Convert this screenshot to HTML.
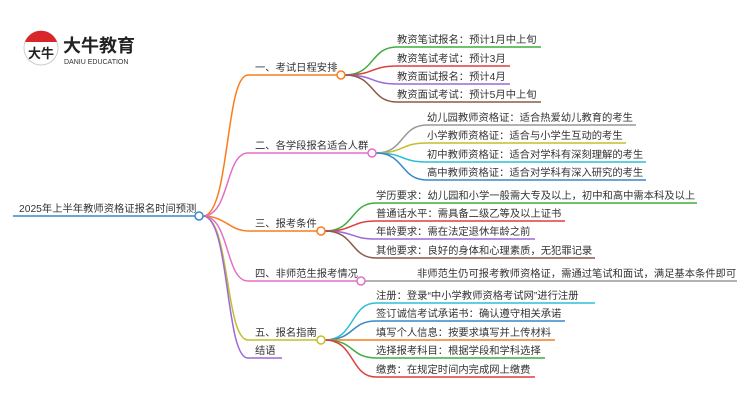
<!DOCTYPE html>
<html><head><meta charset="utf-8"><style>
html,body{margin:0;padding:0;background:#fff;width:750px;height:410px;overflow:hidden}
svg text{font-family:"Liberation Sans","Noto Sans CJK SC",sans-serif;fill:#333;font-size:10.3px}
</style></head><body>
<svg width="750" height="410" viewBox="0 0 750 410" xmlns="http://www.w3.org/2000/svg" fill="none" stroke-width="1.5">
<!-- logo -->
<circle cx="41" cy="48" r="17" fill="#fff" stroke="#ccc" stroke-width="1"/>
<path d="M25,42 A17,17 0 0 1 57,42 Z" fill="#d9262b" stroke="none"/>
<text x="28" y="58" style="font-size:13px;font-weight:bold;fill:#222">大牛</text>
<text x="63" y="52" style="font-size:18px;font-weight:bold;fill:#222">大牛教育</text>
<text x="64" y="64" style="font-size:7px;fill:#333">DANIU EDUCATION</text>

<!-- root -->
<path d="M13,216 H195" stroke="#3a87c8"/>
<text x="19" y="212">2025年上半年教师资格证报名时间预测</text>

<!-- main branches -->
<path d="M203,216 C230,216 225,75 248,75 H337" stroke="#f97d1c"/>
<path d="M203,216 C230,216 225,153 248,153 H368" stroke="#e46fc7"/>
<path d="M203,216 C225,216 230,231 248,231 H317" stroke="#f97d1c"/>
<path d="M203,216 C230,216 225,281 248,281 H357" stroke="#e46fc7"/>
<path d="M203,216 C230,216 225,340 248,340 H317" stroke="#c4bf2a"/>
<path d="M203,216 C230,216 225,358 248,358 H282" stroke="#9b6ad6"/>
<circle cx="199" cy="216" r="4" fill="#fff" stroke="#3a87c8"/>
<text x="255" y="71">一、考试日程安排</text>
<text x="255" y="149">二、各学段报名适合人群</text>
<text x="255" y="227">三、报考条件</text>
<text x="255" y="277">四、非师范生报考情况</text>
<text x="255" y="336">五、报名指南</text>
<text x="255" y="354">结语</text>

<!-- branch 1 leaves -->
<path d="M345,75 C375,75 370,47 397,47 H541" stroke="#3fae3f"/>
<path d="M345,75 C375,75 370,66 397,66 H510" stroke="#e03e3e"/>
<path d="M345,75 C375,75 370,84 397,84 H510" stroke="#9b6ad6"/>
<path d="M345,75 C375,75 370,102 397,102 H541" stroke="#8a5a4a"/>
<circle cx="341" cy="75" r="4" fill="#fff" stroke="#f97d1c"/>
<text x="397" y="43">教资笔试报名：预计1月中上旬</text>
<text x="397" y="62">教资笔试考试：预计3月</text>
<text x="397" y="80">教资面试报名：预计4月</text>
<text x="397" y="98">教资面试考试：预计5月中上旬</text>

<!-- branch 2 leaves -->
<path d="M376,153 C405,153 400,125 427,125 H636" stroke="#999"/>
<path d="M376,153 C405,153 400,143 427,143 H626" stroke="#c4bf2a"/>
<path d="M376,153 C405,153 400,162 427,162 H646" stroke="#2bbfd6"/>
<path d="M376,153 C405,153 400,180 427,180 H646" stroke="#3a87c8"/>
<circle cx="372" cy="153" r="4" fill="#fff" stroke="#e46fc7"/>
<text x="427" y="121">幼儿园教师资格证：适合热爱幼儿教育的考生</text>
<text x="427" y="139">小学教师资格证：适合与小学生互动的考生</text>
<text x="427" y="158">初中教师资格证：适合对学科有深刻理解的考生</text>
<text x="427" y="176">高中教师资格证：适合对学科有深入研究的考生</text>

<!-- branch 3 leaves -->
<path d="M325,231 C355,231 350,203 376,203 H697" stroke="#3fae3f"/>
<path d="M325,231 C355,231 350,221 376,221 H565" stroke="#e03e3e"/>
<path d="M325,231 C355,231 350,239 376,239 H535" stroke="#9b6ad6"/>
<path d="M325,231 C355,231 350,258 376,258 H595" stroke="#8a5a4a"/>
<circle cx="321" cy="231" r="4" fill="#fff" stroke="#f97d1c"/>
<text x="376" y="199">学历要求：幼儿园和小学一般需大专及以上，初中和高中需本科及以上</text>
<text x="376" y="217">普通话水平：需具备二级乙等及以上证书</text>
<text x="376" y="235">年龄要求：需在法定退休年龄之前</text>
<text x="376" y="254">其他要求：良好的身体和心理素质，无犯罪记录</text>

<!-- branch 4 -->
<path d="M365,281 H737" stroke="#999"/>
<circle cx="361" cy="281" r="4" fill="#fff" stroke="#e46fc7"/>
<text x="417" y="277">非师范生仍可报考教师资格证，需通过笔试和面试，满足基本条件即可</text>

<!-- branch 5 leaves -->
<path d="M325,340 C355,340 350,303 376,303 H595" stroke="#2bbfd6"/>
<path d="M325,340 C355,340 350,321 376,321 H565" stroke="#3a87c8"/>
<path d="M325,340 H555" stroke="#f97d1c"/>
<path d="M325,340 C355,340 350,358 376,358 H545" stroke="#3fae3f"/>
<path d="M325,340 C355,340 350,377 376,377 H535" stroke="#e03e3e"/>
<circle cx="321" cy="340" r="4" fill="#fff" stroke="#c4bf2a"/>
<text x="376" y="299">注册：登录“中小学教师资格考试网”进行注册</text>
<text x="376" y="317">签订诚信考试承诺书：确认遵守相关承诺</text>
<text x="376" y="336">填写个人信息：按要求填写并上传材料</text>
<text x="376" y="354">选择报考科目：根据学段和学科选择</text>
<text x="376" y="373">缴费：在规定时间内完成网上缴费</text>
</svg>
</body></html>
